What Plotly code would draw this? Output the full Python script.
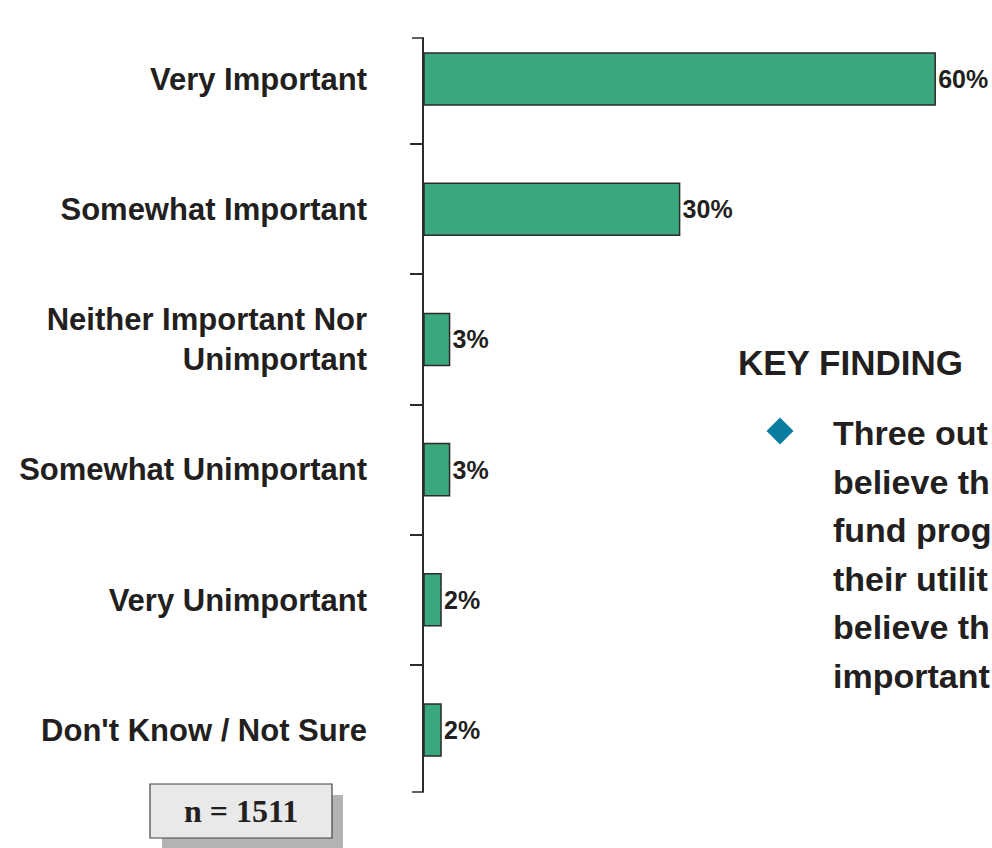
import plotly.graph_objects as go

categories = ["Very Important", "Somewhat Important", "Neither Important Nor<br>Unimportant",
              "Somewhat Unimportant", "Very Unimportant", "Don't Know / Not Sure"]
values = [60, 30, 3, 3, 2, 2]
sample_label = "n = 1511"
finding_title = "KEY FINDING"
finding_lines = ["Three out", "believe th", "fund prog", "their utilit", "believe th", "important"]

OFF = 0                      # page body margin removed via post_script
W, H = 992 - OFF, 848 - OFF  # figure size
L = 424 - OFF
T = 38 - OFF
B = H - (792 - OFF)
PW, PH = W - L, H - T - B
PX_PER_UNIT = 8.52
FONT = "Liberation Sans, Arial, Helvetica, sans-serif"
INK = "#231f20"
AXIS = "#2b2b2b"

def px(x):   # screen x -> paper
    return (x - OFF - L) / PW

def py(y):   # screen y -> paper
    return (H - B - (y - OFF)) / PH

fig = go.Figure(go.Bar(
    x=values, y=categories, orientation="h",
    marker=dict(color="#3ba77c", line=dict(color="#2b2b2b", width=1.5)),
    width=0.4,
    text=[f"{v}%" for v in values], textposition="outside",
    textfont=dict(family=FONT, size=25, color=INK, weight="bold"),
    cliponaxis=False, hoverinfo="skip",
))

def diamond(cx, cy, r):
    return (f"M {px(cx)} {py(cy - r)} L {px(cx + r)} {py(cy)} "
            f"L {px(cx)} {py(cy + r)} L {px(cx - r)} {py(cy)} Z")

shapes = [
    dict(type="line", xref="paper", yref="paper", x0=px(412), x1=px(424), y0=1, y1=1,
         line=dict(color=AXIS, width=1.5)),
    dict(type="line", xref="paper", yref="paper", x0=px(412), x1=px(424), y0=0, y1=0,
         line=dict(color=AXIS, width=1.5)),
    dict(type="rect", xref="paper", yref="paper", x0=px(162), x1=px(343), y0=py(850), y1=py(795),
         fillcolor="#b3b3b3", line=dict(width=0), layer="above"),
    dict(type="rect", xref="paper", yref="paper", x0=px(150), x1=px(332), y0=py(838), y1=py(784),
         fillcolor="#e9e9e9", line=dict(color="#444444", width=1.2), layer="above"),
    dict(type="path", xref="paper", yref="paper", path=diamond(780, 431, 13.5),
         fillcolor="#0b7ea0", line=dict(width=0), layer="above"),
]

annotations = [
    dict(text=f"<b>{sample_label}</b>", xref="paper", yref="paper", x=px(241), y=py(811),
         xanchor="center", yanchor="middle", showarrow=False,
         font=dict(family="Liberation Serif, Times New Roman, serif", size=32, color=INK)),
    dict(text=finding_title, xref="paper", yref="paper", x=px(736), y=py(362), xanchor="left",
         yanchor="middle", showarrow=False,
         font=dict(family=FONT, size=35, color=INK, weight="bold")),
]
for i, line in enumerate(finding_lines):
    annotations.append(dict(text=line, xref="paper", yref="paper", x=px(831), y=py(433 + 48.5 * i),
                            xanchor="left", yanchor="middle", showarrow=False,
                            font=dict(family=FONT, size=34, color=INK, weight="bold")))

fig.update_layout(
    width=W, height=H,
    margin=dict(l=L, r=0, t=T, b=B, pad=0, autoexpand=False),
    plot_bgcolor="white", paper_bgcolor="white",
    showlegend=False, hovermode=False,
    xaxis=dict(range=[0, PW / PX_PER_UNIT], visible=False, fixedrange=True),
    yaxis=dict(type="category", categoryorder="array", categoryarray=categories,
               range=[5.476, -0.315], showline=True, linecolor=AXIS, linewidth=1.5,
               ticks="outside", tickson="boundaries", ticklen=12, tickwidth=1.5, tickcolor=AXIS,
               showgrid=False, zeroline=False, ticklabelstandoff=49, automargin=False,
               fixedrange=True,
               tickfont=dict(family=FONT, size=31, color=INK, weight="bold")),
    shapes=shapes, annotations=annotations,
)

fig.write_html("out.html", config={"displayModeBar": False},
               post_script="document.body.style.margin='0';document.body.style.overflow='hidden';")
